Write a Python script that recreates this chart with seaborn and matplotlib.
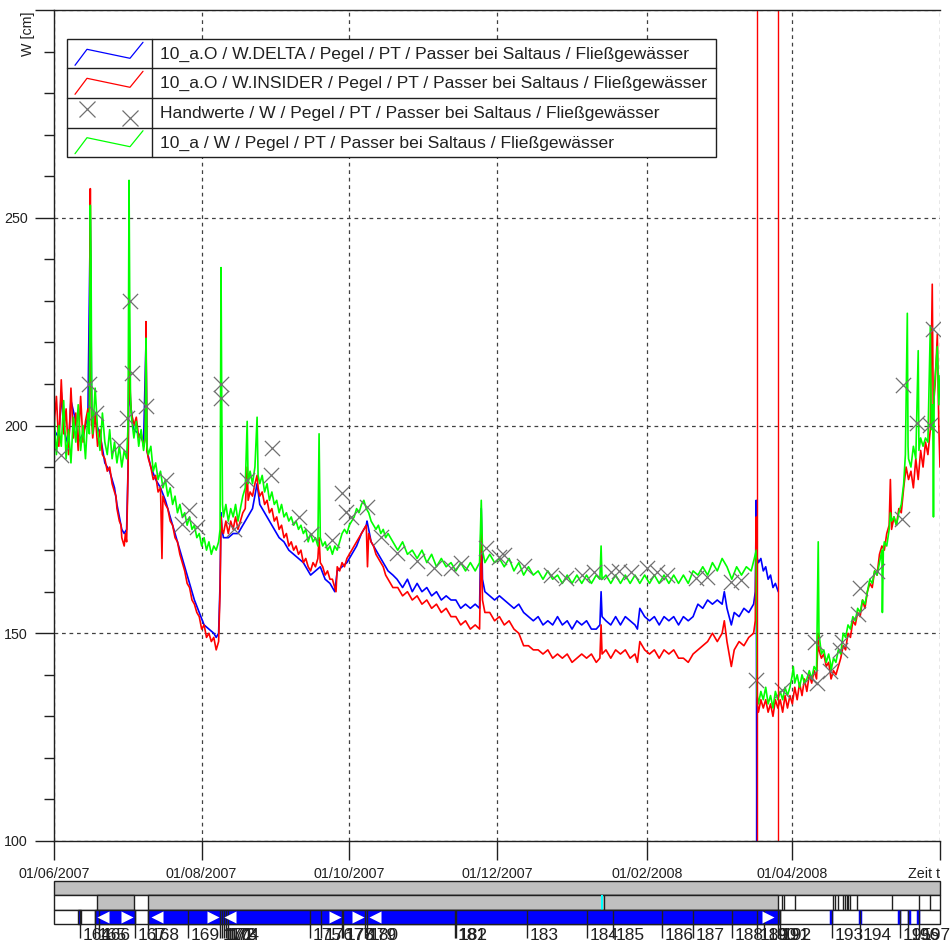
import numpy as np
import pandas as pd
import matplotlib
matplotlib.use("Agg")
import matplotlib.pyplot as plt
import matplotlib.dates as mdates
from matplotlib.patches import Rectangle
from matplotlib.ticker import FixedLocator, MultipleLocator
import seaborn as sns

# ---------------- data (day offset from 01/06/2007, value in cm) ----------------
START = "2007-06-01"
N_DAYS = 366

BLUE = [(0,199),(2,197),(3,208),(4,199),(6,195),(7,206),(9,201),(10,196),(12,198),(14,202),
        (15,250),(15.6,200),(17,201),(19,198),(21,191),(23,189),(25,185),(26,181),(27,178),
        (28,175),(29,174),(30,175),(30.6,190),(31,218),(31.6,205),(33,199),(35,198),(37,196),
        (38,220),(38.4,194),(40,190),(42,187),(44,185),(46,182),(48,178),(50,174),(52,170),
        (54,166),(56,162),(58,158),(60,155),(62,152),(64,151),(66,150),(67,149),(68,150),
        (68.6,162),(69,179),(69.4,175),(70,173),(72,173),(74,174),(76,174),(78,176),(80,178),
        (82,180),(83.9,186),(85,181),(87,179),(89,177),(91,175),(93,173),(95,172),(97,170),
        (99,169),(101,168),(103,167),(105,165),(106,164),(108,165),(110,166),(112,163),
        (114,162),(116,160),(117,165),(119,166),(121,167),(123,169),(125,171),(127,174),
        (129,176),(129.3,177),(130,175),(131,172),(132,171),(134,169),(136,167),(138,165),
        (140,164),(141.7,163),(144,161),(146,163),(148,160),(150,162),(152,160),(154,161),
        (156,159),(158,160),(160,158),(162,159),(164,158),(166,158),(168,156),(170,157),
        (172,156),(174,157),(175.8,156),(176.5,180),(177,163),(178,160),(180,159),(182,158),
        (184,159),(186,158),(188,157),(190,156),(192,157),(194,155),(196,154),(198,153),
        (200,154),(202,152),(204,153),(206,152),(208,154),(210,152),(212,153),(214,151),
        (216,153),(218,152),(220,153),(222,151),(224,151),(225.5,152),(226,160),(226.4,154),
        (228,153),(230,152),(232,154),(234,152),(236,154),(238,153),(240,152),(241,151),
        (242,156),(244,154),(246,153),(248,154),(250,152),(252,154),(254,153),(256,154),
        (258,152),(260,154),(262,153),(264,154),(265.3,156),(266,157),(268,156),(270,158),
        (272,157),(274,158),(276,157),(276.9,160),(278,156),(279.8,152),(281,155),(283,154),
        (285,156),(287,155),(289,157),(289.7,160),(290.1,182),(290.3,100),(290.5,168),
        (291,167),(292,168),(293,165),(294,166),(295,163),(296,164),(297,161),(298,162),
        (299.2,160)]

RED = [(0,200),(1,207),(2,195),(3,211),(4,198),(5,204),(6,193),(7,209),(8,197),(9,203),
       (10,194),(11,207),(12,196),(13,201),(14,204),(14.6,200),(15,257),(15.3,214),(15.6,201),
       (16,197),(17,203),(18,195),(19,199),(20,193),(21,192),(22,189),(23,190),(24,186),
       (25,184),(25.6,183),(26,180),(27,177),(27.7,176),(28,173),(29,171),(29.5,174),(30,172),
       (30.6,189),(31,222),(31.3,212),(31.6,206),(32,203),(33,200),(34,202),(35,197),(36,198),
       (37,195),(37.7,197),(38,225),(38.4,194),(39,192),(40,190),(41,187),(42,188),(43,184),
       (44,185),(44.6,168),(45,183),(46,181),(47,180),(48,177),(49,176),(50,173),(51,172),
       (52,169),(53,167),(54,165),(55,162),(56,161),(57,158),(58,157),(59,155),(60,154),
       (61,151),(62,152),(63,149),(64,150),(65,148),(66,149),(67,146),(68,148),(68.6,160),
       (69,178),(69.4,175),(70,174),(71,177),(72,174),(73,177),(74,175),(75,178),(76,175),
       (77,177),(78,179),(79,180),(79.8,190),(80.2,182),(81,184),(82,183),(83,186),(83.9,188),
       (84.3,185),(85,183),(86,184),(87,181),(88,182),(89,179),(90,180),(91,177),(92,178),
       (93,175),(94,176),(95,173),(96,174),(97,171),(98,172),(99,170),(100,171),(101,169),
       (102,170),(103,167),(104,168),(105,166),(106,165),(107,167),(108,166),(109,168),
       (109.5,173),(110,167),(111,166),(112,164),(113,165),(114,163),(115,163),(116,161),
       (116.5,160),(117,166),(118,165),(119,167),(120,166),(121,168),(122,169),(123,170),
       (124,171),(125,172),(126,173),(127,174),(128,175),(129,176),(129.5,166),(130,174),
       (131,172),(132,171),(133,169),(134,168),(135,167),(136,166),(137,164),(138,163),
       (139,162),(140,161),(142,161),(144,159),(146,160),(148,158),(150,159),(152,157),
       (154,158),(156,156),(158,157),(160,155),(162,156),(164,154),(166,154),(168,152),
       (170,153),(172,151),(174,152),(175.8,151),(176.5,174),(177,158),(178,155),(180,155),
       (182,153),(184,154),(186,152),(188,153),(190,151),(192,150),(194,147),(196,147),
       (198,146),(200,146),(202,145),(204,146),(206,144),(208,145),(210,144),(212,145),
       (214,143),(216,144),(218,145),(220,144),(222,145),(224,143),(225.5,144),(226,152),
       (226.4,145),(228,146),(230,144),(232,146),(234,145),(236,146),(238,144),(240,145),
       (241,143),(242,148),(244,146),(246,145),(248,146),(250,144),(252,146),(254,145),
       (256,146),(258,144),(260,144),(262,143),(264,145),(266,146),(268,147),(270,148),
       (272,150),(274,148),(276,150),(276.9,153),(278,148),(279.8,142),(281,146),(283,148),
       (285,147),(287,149),(289,150),(289.7,153),(290.1,178),(290.5,133),(291,131),(292,134),
       (293,132),(294,134),(295,131),(296,133),(297,130),(298,134),(299,132),(300,134),
       (301,131),(302,135),(303,132),(304,135),(305,133),(306,137),(307,134),(308,138),
       (309,135),(310,139),(311,136),(312,140),(313,138),(314,141),(315,139),(315.7,150),
       (316,146),(317,144),(318,145),(319,142),(320,143),(321,139),(322,141),(323,140),
       (324,142),(325,144),(326,147),(327,146),(328,150),(329,149),(330,153),(331,152),
       (332,155),(333,154),(334,158),(335,156),(336,160),(337,162),(338,161),(339,165),
       (340,164),(341,169),(342,171),(343,170),(344,174),(345,176),(345.5,187),(346,175),
       (347,178),(348,176),(349,180),(350,179),(351,185),(352,190),(353,187),(354,189),
       (355,185),(356,192),(357,187),(358,194),(359,190),(360,196),(361,193),(362,199),
       (362.8,234),(363.2,204),(364,210),(364.9,222),(365.5,200),(366,190)]

GREEN = [(0,203),(1,193),(2,200),(3,195),(4,206),(5,192),(6,199),(7,191),(8,202),(9,196),
         (10,205),(11,194),(12,200),(13,192),(14,203),(14.6,198),(15,253),(15.3,240),(15.6,204),
         (16,198),(17,209),(18,199),(19,194),(20,203),(21,196),(22,193),(23,199),(24,192),
         (25,196),(26,191),(27,195),(28,190),(29,194),(30,192),(30.6,200),(31,259),(31.3,228),
         (31.6,207),(32,202),(33,197),(34,201),(35,195),(36,199),(37,194),(37.7,197),(38,221),
         (38.4,195),(39,193),(40,195),(41,189),(42,191),(43,187),(44,189),(45,185),(46,187),
         (47,183),(48,185),(49,181),(50,183),(51,179),(52,181),(53,178),(54,179),(55,176),
         (56,178),(57,175),(58,176),(59,173),(60,174),(61,171),(62,173),(63,170),(64,172),
         (65,169),(66,171),(67,170),(68,172),(68.6,175),(69,238),(69.3,205),(69.6,181),(70,178),
         (71,181),(72,177),(73,180),(74,178),(75,181),(76,177),(77,180),(78,183),(79,185),
         (79.8,201),(80.2,186),(81,189),(82,186),(83,190),(83.9,202),(84.3,188),(85,186),
         (86,188),(87,184),(88,186),(89,182),(90,184),(91,181),(92,182),(93,179),(94,181),
         (95,178),(96,179),(97,177),(98,178),(99,176),(100,177),(101,175),(102,176),(103,174),
         (104,175),(105,172),(106,174),(107,172),(108,173),(109,171),(109.5,198),(110,173),
         (111,171),(112,172),(113,170),(114,171),(115,169),(116,171),(117,170),(118,172),
         (119,174),(120,175),(121,174),(122,176),(123,177),(124,178),(125,180),(126,179),
         (127,181),(128,182),(129,180),(130,179),(131,177),(132,176),(133,175),(134,176),
         (135,174),(136,175),(137,173),(138,174),(140,172),(142,170),(144,172),(146,169),
         (148,170),(150,168),(152,170),(154,167),(156,169),(158,166),(160,168),(162,166),
         (164,167),(166,165),(168,167),(170,165),(172,167),(174,165),(175.8,167),(176.5,182),
         (177,170),(178,167),(180,169),(182,167),(184,168),(186,166),(188,168),(190,165),
         (192,167),(194,164),(196,166),(198,164),(200,165),(202,163),(204,165),(206,163),
         (208,164),(210,162),(212,164),(214,162),(216,164),(218,162),(220,164),(222,162),
         (224,164),(225.5,163),(226,171),(226.4,163),(228,164),(230,162),(232,164),(234,162),
         (236,164),(238,162),(240,164),(242,162),(244,164),(246,162),(248,164),(250,162),
         (252,164),(254,162),(256,164),(258,162),(260,164),(262,162),(264,165),(266,164),
         (268,166),(270,164),(272,167),(274,165),(276,168),(278,166),(280,163),(282,166),
         (284,164),(286,166),(288,165),(289.3,168),(290.1,170),(290.5,135),(291,133),(292,136),
         (293,134),(294,137),(295,133),(296,135),(297,132),(298,136),(299,134),(300,136),
         (301,134),(302,137),(303,135),(304,137),(305,140),(305.4,142),(306,138),(307,140),
         (308,137),(309,140),(310,138),(311,139),(312,141),(313,139),(314,142),(315,141),
         (315.7,172),(316,150),(316.6,147),(317,145),(318,146),(319,143),(320,145),(320.7,143),
         (321,141),(322,144),(323,143),(324,146),(325,145),(326,150),(327,149),(328,152),
         (329,151),(330,154),(331,153),(332,156),(333,155),(334,158),(335,157),(336,160),
         (337,163),(338,162),(339,165),(340,164),(341,167),(342,170),(342.2,155),(342.6,170),
         (343,172),(344,171),(345,175),(345.5,179),(346,177),(347,178),(348,176),(349,179),
         (350,181),(351,186),(351.7,193),(352.5,227),(352.8,195),(353,192),(354,190),(355,195),
         (356,192),(357,218),(357.3,194),(358,197),(359,195),(360,197),(361,196),(362,224),
         (362.4,199),(363,205),(363.3,178),(363.6,208),(364,212),(364.9,219),(365.5,205),
         (366,212)]

HANDWERTE = [(2.9,192.8),(14.5,210.1),(17.4,202.9),(26.9,195.2),(30.2,201.9),(31.4,230.0),
             (32.2,212.7),(38.0,204.8),(46.3,186.8),(52.9,176.4),(55.8,179.6),(59.1,175.5),
             (69.0,210.1),(69.0,206.7),(74.4,175.2),(79.8,186.8),(89.7,188.0),(90.1,194.7),
             (101.2,177.9),(106.2,174.0),(114.9,172.4),(119.0,183.7),(120.7,179.1),
             (122.7,177.9),(129.3,180.3),(135.1,173.1),(141.7,169.2),(150.0,167.5),
             (157.0,165.6),(164.1,165.6),(168.2,166.8),(178.5,170.4),(183.9,168.3),
             (186.0,168.8),(194.2,166.3),(205.4,163.9),(211.6,163.2),(218.2,163.9),
             (223.2,164.7),(230.2,164.7),(233.5,165.1),(238.5,164.7),(245.1,165.6),
             (249.2,164.7),(253.3,163.9),(265.3,163.2),(269.9,163.5),(279.8,162.3),
             (283.9,162.7),(290.1,138.7),(300.8,136.3),(312.4,139.4),(315.3,138.0),
             (314.5,147.8),(320.7,140.9),(324.8,146.0),(325.7,147.8),(332.3,154.7),
             (333.1,160.8),(340.1,165.1),(350.4,177.6),(350.9,209.8),(356.6,200.5),
             (362.0,200.2),(363.2,223.3)]

MARKER_DAYS = [290.5, 299.2]

XTICK_DATES = ["2007-06-01", "2007-08-01", "2007-10-01", "2007-12-01",
               "2008-02-01", "2008-04-01", "2008-06-01"]
XTICK_LABELS = ["01/06/2007", "01/08/2007", "01/10/2007", "01/12/2007",
                "01/02/2008", "01/04/2008", "Zeit t"]
YTICKS = [100, 150, 200, 250, 300]
YTICK_LABELS = ["100", "150", "200", "250", ""]

LEGEND_LABELS = [
    "10_a.O / W.DELTA / Pegel / PT / Passer bei Saltaus / Fließgewässer",
    "10_a.O / W.INSIDER / Pegel / PT / Passer bei Saltaus / Fließgewässer",
    "Handwerte / W / Pegel / PT / Passer bei Saltaus / Fließgewässer",
    "10_a / W / Pegel / PT / Passer bei Saltaus / Fließgewässer",
]

# bottom status strip (day ranges)
ROW2_GRAY = [(17.8, 33.1), (38.8, 299.2)]
ROW2_CYAN = [(225.8, 226.9)]
ROW2_MARKS = [227.3, 300.7, 301.7, 306.2, 321.9, 322.8, 324.0, 326.1, 326.8, 327.5,
              328.2, 329.0, 331.9, 346.3, 357.5, 362.0]
ROW3_BLUE = [(10.0, 11.2), (16.9, 33.5), (38.8, 300.0)]
ROW3_BLUE_THIN = [321.0, 333.0, 349.0, 353.0, 357.0]
ARROWS_LEFT = [20.2, 42.6, 72.7, 132.6]
ARROWS_RIGHT = [30.2, 65.7, 116.1, 125.6, 295.0]
SEGMENT_IDS = list(range(164, 198))
SEGMENT_DAYS = [10.7, 16.9, 18.5, 33.5, 38.8, 55.4, 68.6, 69.4, 70.2, 71.0, 72.0,
                105.8, 110.5, 119.0, 119.4, 128.5, 129.3, 165.7, 166.2, 195.5, 220.3,
                231.0, 251.2, 264.0, 280.2, 290.5, 293.5, 299.2, 300.0, 321.5, 333.1,
                349.6, 352.9, 357.5]

# ---------------- styling ----------------
sns.set_style("white")
plt.rcParams["font.family"] = ["Liberation Sans", "DejaVu Sans"]

W, H = 952, 944
fig = plt.figure(figsize=(W / 100, H / 100), dpi=100)
fig.patch.set_facecolor("white")

base = pd.Timestamp(START)
base_num = mdates.date2num(base)


def frame(pairs):
    d = np.array([p[0] for p in pairs], dtype=float)
    v = np.array([p[1] for p in pairs], dtype=float)
    return pd.DataFrame({"t": base + pd.to_timedelta(d, unit="D"), "W": v})


ax = fig.add_axes([54 / W, (H - 841) / H, 886 / W, 831 / H])

LW = 1.2
sns.lineplot(data=frame(BLUE), x="t", y="W", ax=ax, color="#0000FF", linewidth=LW,
             estimator=None, sort=False, zorder=2)
sns.lineplot(data=frame(RED), x="t", y="W", ax=ax, color="#FF0000", linewidth=LW,
             estimator=None, sort=False, zorder=3)
sns.lineplot(data=frame(GREEN), x="t", y="W", ax=ax, color="#00FF00", linewidth=LW,
             estimator=None, sort=False, zorder=4)
hw = frame(HANDWERTE)
sns.scatterplot(data=hw, x="t", y="W", ax=ax, marker="x", s=120, color="#707070",
                linewidth=0.9, zorder=5)
for d in MARKER_DAYS:
    ax.axvline(base_num + d, color="#FF0000", linewidth=1.0, zorder=6)

ax.set_xlim(base_num, base_num + N_DAYS)
ax.set_ylim(100, 300)
ax.set_xlabel("")
ax.set_ylabel("")

ax.yaxis.set_major_locator(FixedLocator(YTICKS))
ax.set_yticklabels(YTICK_LABELS)
ax.yaxis.set_minor_locator(MultipleLocator(10))
xt = [mdates.date2num(pd.Timestamp(d)) for d in XTICK_DATES]
ax.set_xticks(xt)
ax.set_xticklabels(XTICK_LABELS)
ax.get_xticklabels()[0].set_ha("center")
ax.get_xticklabels()[-1].set_ha("right")

ax.tick_params(axis="both", which="both", left=True, bottom=True, right=False, top=False)
ax.tick_params(axis="both", which="major", length=14, width=1, color="#202020",
               labelsize=10.3, labelcolor="#202020", direction="out")
ax.tick_params(axis="y", which="major", pad=5)
ax.tick_params(axis="x", which="major", pad=5)
ax.tick_params(axis="y", which="minor", length=7, width=1, color="#202020", direction="out")
ax.tick_params(axis="x", which="minor", length=0)

ax.set_axisbelow(True)
ax.grid(True, which="major", axis="both", color="#404040", linestyle=(0, (3, 3)),
        linewidth=0.9)
for s in ["left", "top", "bottom"]:
    ax.spines[s].set_visible(True)
    ax.spines[s].set_color("#202020")
    ax.spines[s].set_linewidth(1.0)
    ax.spines[s].set_zorder(7)
ax.spines["right"].set_visible(False)

fig.text(28 / W, 1 - 11 / H, "W [cm]", rotation=90, ha="center", va="top",
         fontsize=10.3, color="#202020")

# ---------------- legend (table style) ----------------
lax = fig.add_axes([0, 0, 1, 1], zorder=20)
lax.set_xlim(0, W)
lax.set_ylim(H, 0)
lax.axis("off")
lx0, lx1, ldiv = 66.7, 716.0, 151.7
rows = [39.3, 68.3, 98.3, 127.7, 157.3]
lax.add_patch(Rectangle((lx0, rows[0]), lx1 - lx0, rows[-1] - rows[0], facecolor="white",
                        edgecolor="#202020", linewidth=1.0))
for r in rows[1:-1]:
    lax.plot([lx0, lx1], [r, r], color="#202020", linewidth=1.0)
lax.plot([ldiv, ldiv], [rows[0], rows[-1]], color="#202020", linewidth=1.0)
zig_x = [75, 87, 130, 143]
zig_dy = [26, 10, 19, 3]
sym_colors = ["#0000FF", "#FF0000", None, "#00FF00"]
for i, lab in enumerate(LEGEND_LABELS):
    top = rows[i]
    if sym_colors[i] is not None:
        lax.plot(zig_x, [top + dy for dy in zig_dy], color=sym_colors[i], linewidth=0.9)
    else:
        lax.plot([87, 130], [top + 10.7, top + 19.7], linestyle="none", marker="x",
                 markersize=11, markeredgewidth=0.9, color="#707070")
    lax.text(160, (top + rows[i + 1]) / 2 + 0.5, lab, ha="left", va="center",
             fontsize=12.6, color="#202020")

# ---------------- bottom status strip ----------------
sax = fig.add_axes([54 / W, 0, 886 / W, 64 / H])
sax.set_xlim(base_num, base_num + N_DAYS)
sax.set_ylim(64, 0)
sax.axis("off")
GRAY = "#C0C0C0"
sax.add_patch(Rectangle((base_num, 0.7), N_DAYS, 14.3, facecolor=GRAY, edgecolor="#202020",
                        linewidth=1.0, clip_on=False))
sax.add_patch(Rectangle((base_num, 15), N_DAYS, 15, facecolor="white", edgecolor="#202020",
                        linewidth=1.0, clip_on=False))
for a, b in ROW2_GRAY:
    sax.add_patch(Rectangle((base_num + a, 15), b - a, 15, facecolor=GRAY,
                            edgecolor="#202020", linewidth=1.0))
for a, b in ROW2_CYAN:
    sax.add_patch(Rectangle((base_num + a, 15), b - a, 15, facecolor="#00FFFF",
                            edgecolor="none"))
sax.vlines([base_num + d for d in ROW2_MARKS], 15, 30, color="#202020", linewidth=1.0)
sax.add_patch(Rectangle((base_num, 30), N_DAYS, 13.5, facecolor="white", edgecolor="#202020",
                        linewidth=1.0, clip_on=False))
for a, b in ROW3_BLUE:
    sax.add_patch(Rectangle((base_num + a, 30), b - a, 13.5, facecolor="#0000FF",
                            edgecolor="#202020", linewidth=1.0))
sax.vlines([base_num + d for d in ROW3_BLUE_THIN], 30, 43.5, color="#0000FF", linewidth=2.5)
sax.vlines([base_num + d for d in SEGMENT_DAYS], 30, 58, color="#202020", linewidth=1.0)
sax.scatter([base_num + d for d in ARROWS_LEFT], [36.8] * len(ARROWS_LEFT), marker="<",
            s=75, color="white", linewidths=0, zorder=5)
sax.scatter([base_num + d for d in ARROWS_RIGHT], [36.8] * len(ARROWS_RIGHT), marker=">",
            s=75, color="white", linewidths=0, zorder=5)
for n, d in zip(SEGMENT_IDS, SEGMENT_DAYS):
    sax.text(base_num + d + 1.1, 47.5, str(n), ha="left", va="top", fontsize=12.5,
             color="#202020", clip_on=False)

fig.savefig("out.png", dpi=100, facecolor="white")
